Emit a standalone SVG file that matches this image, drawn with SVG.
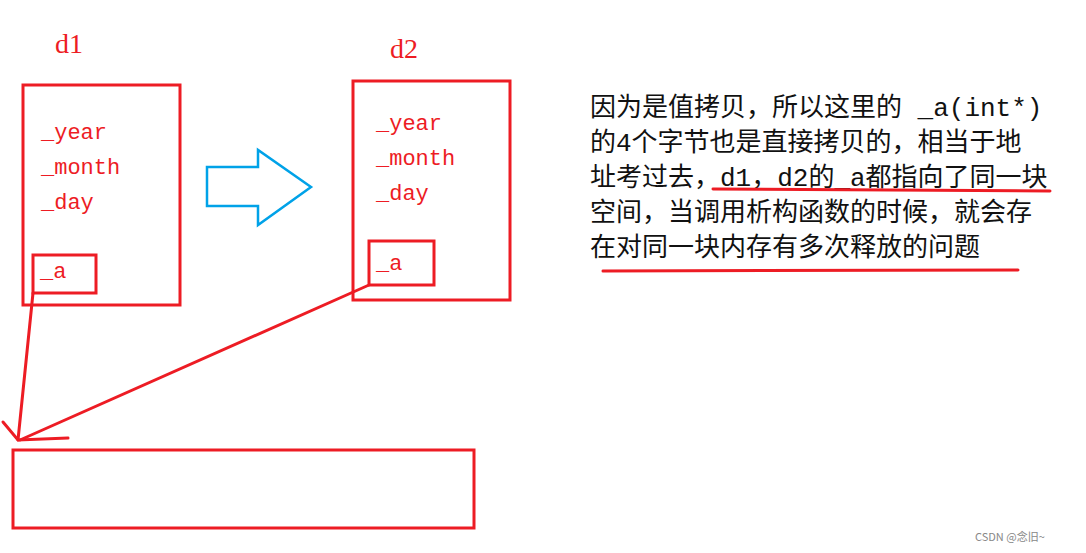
<svg xmlns="http://www.w3.org/2000/svg" width="1086" height="553" viewBox="0 0 1086 553">
<style>
.box{fill:none;stroke:#ed1c24;stroke-width:3}
.lbl{font-family:"Liberation Mono","Noto Sans CJK SC",monospace;font-size:22px;fill:#ed1c24}
.ttl{font-family:"Liberation Serif",serif;font-size:28px;fill:#ed1c24}
.txt{font-family:"Liberation Mono","Noto Sans CJK SC",monospace;font-size:26px;fill:#111}
.ln{stroke:#ed1c24;stroke-width:3;fill:none;stroke-linecap:round}
</style>
<rect width="1086" height="553" fill="#fff"/>
<g id="d1">
<text class="ttl" x="55" y="53">d1</text>
<rect class="box" x="23" y="85" width="157" height="220"/>
<text class="lbl" x="41" y="139">_year</text>
<text class="lbl" x="41" y="174">_month</text>
<text class="lbl" x="41" y="209">_day</text>
<rect class="box" x="33" y="255" width="63" height="38"/>
<text class="lbl" x="40" y="278">_a</text>
</g>
<g id="d2">
<text class="ttl" x="390" y="58">d2</text>
<rect class="box" x="353" y="81" width="157" height="219"/>
<text class="lbl" x="376" y="130">_year</text>
<text class="lbl" x="376" y="165">_month</text>
<text class="lbl" x="376" y="200">_day</text>
<rect class="box" x="369" y="241" width="65" height="44"/>
<text class="lbl" x="376" y="270">_a</text>
</g>
<g id="memory">
<rect class="box" x="13" y="450" width="461" height="78"/>
</g>
<g id="copy-arrow">
<polygon points="207,167 258,167 258,150 311,187 258,225 258,206 207,206" fill="none" stroke="#00a2e8" stroke-width="2.5"/>
</g>
<g id="connectors">
<path class="ln" d="M33,293 L18,440"/>
<path class="ln" d="M369,285 L20,440"/>
<path class="ln" d="M3,422 L18,440 L68,438"/>
</g>
<g id="note">
<text class="txt" x="590" y="116">因为是值拷贝，所以这里的 _a(int*)</text>
<text class="txt" x="590" y="151">的4个字节也是直接拷贝的，相当于地</text>
<text class="txt" x="590" y="186">址考过去，d1，d2的_a都指向了同一块</text>
<text class="txt" x="590" y="221">空间，当调用析构函数的时候，就会存</text>
<text class="txt" x="590" y="256">在对同一块内存有多次释放的问题</text>
<path class="ln" d="M713,189 L1050,191"/>
<path class="ln" d="M603,271 L1018,270"/>
</g>
<text x="975" y="541" font-family="'Noto Sans CJK SC',sans-serif" font-size="11" fill="#888">CSDN @念旧~</text>
</svg>
